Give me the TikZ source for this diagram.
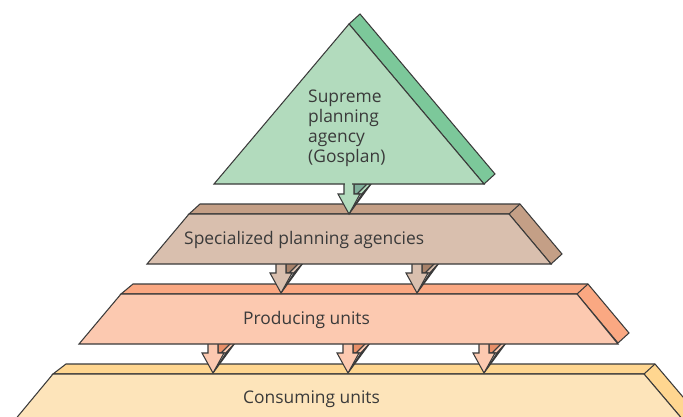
\documentclass[tikz,border=0pt]{standalone}
\usepackage{fontspec}
\setmainfont{Open Sans}
\definecolor{gfront}{HTML}{B2DBBD}\definecolor{gband}{HTML}{7CC89A}\definecolor{gdark}{HTML}{7FAE9A}
\definecolor{bfront}{HTML}{D9BFAE}\definecolor{bband}{HTML}{C49F86}\definecolor{bdark}{HTML}{A8826A}
\definecolor{pfront}{HTML}{FCC9B0}\definecolor{pband}{HTML}{FAA882}\definecolor{pdark}{HTML}{E88F68}
\definecolor{yfront}{HTML}{FDE4BA}\definecolor{yband}{HTML}{FFD690}
\definecolor{ink}{HTML}{3A3A3A}
\tikzset{
  edge/.style={draw=ink,line width=1.05pt,line join=miter},
  lbl/.style={text=ink,font=\fontsize{17.4}{19.8}\selectfont,inner sep=0pt},
}
\newcommand{\blockarrow}[5]{%
  \begin{scope}[shift={(#1,#2)}]
    \draw[edge,fill=#4] (5,-30) -- (18,-30) -- (8,-20) -- (5,-20) -- cycle;
    \draw[edge,fill=#3] (18,-30) -- (22,-30) -- (13,-20) -- (8,-20) -- cycle;
    \draw[edge,fill=#5] (13,-20) -- (22,-30) -- (0,0) -- cycle;
    \draw[edge,fill=#3] (-5,-30) -- (-5,-20) -- (-11,-20) -- (0,0) -- (11,-20) -- (5,-20) -- (5,-30);
    \fill[#3] (-4.4,-31) rectangle (4.4,-20);
  \end{scope}}
\begin{document}
\begin{tikzpicture}[x=1pt,y=-1pt]
\clip (0,0) rectangle (683,416);
\fill[white] (0,0) rectangle (683,416);
% consuming
\draw[edge,fill=yband] (53,374) -- (66,364) -- (655,364) -- (700,417) -- (689,427) -- (644,374) -- cycle;
\draw[edge,fill=yfront] (53,374) -- (644,374) -- (689,427) -- (9,427) -- cycle;
\draw[edge] (644,374) -- (655,364);
\blockarrow{213}{373}{pfront}{pdark}{pband}
\blockarrow{348}{373}{pfront}{pdark}{pband}
\blockarrow{484}{373}{pfront}{pdark}{pband}
% producing
\draw[edge,fill=pband] (121,294) -- (133,284) -- (588,284) -- (629,333) -- (618,343) -- (577,294) -- cycle;
\draw[edge,fill=pfront] (121,294) -- (577,294) -- (618,344) -- (79,344) -- cycle;
\draw[edge] (577,294) -- (588,284);
\blockarrow{281}{293}{bfront}{bdark}{bband}
\blockarrow{417}{293}{bfront}{bdark}{bband}
% specialized
\draw[edge,fill=bband] (189,214) -- (200,204) -- (520,204) -- (562,254) -- (551,264) -- (509,214) -- cycle;
\draw[edge,fill=bfront] (189,214) -- (509,214) -- (551,264) -- (147,264) -- cycle;
\draw[edge] (509,214) -- (520,204);
\blockarrow{349}{214}{gfront}{gdark}{gband}
% top
\draw[edge,fill=gband] (349,24) -- (360,14) -- (495,174) -- (484,184) -- cycle;
\draw[edge,fill=gfront] (349,24) -- (484,184) -- (214,184) -- cycle;
\fill[gfront] (344.6,183) rectangle (352.4,186);
\node[lbl,align=left,anchor=north west] (top) at (308,90) {Supreme\\planning\\agency\\(Gosplan)};
\node[lbl,anchor=base west] (spec) at (184,244) {Specialized planning agencies};
\node[lbl,anchor=base west] (prod) at (243,324) {Producing units};
\node[lbl,anchor=base west] (cons) at (243,403) {Consuming units};
\end{tikzpicture}
\end{document}
